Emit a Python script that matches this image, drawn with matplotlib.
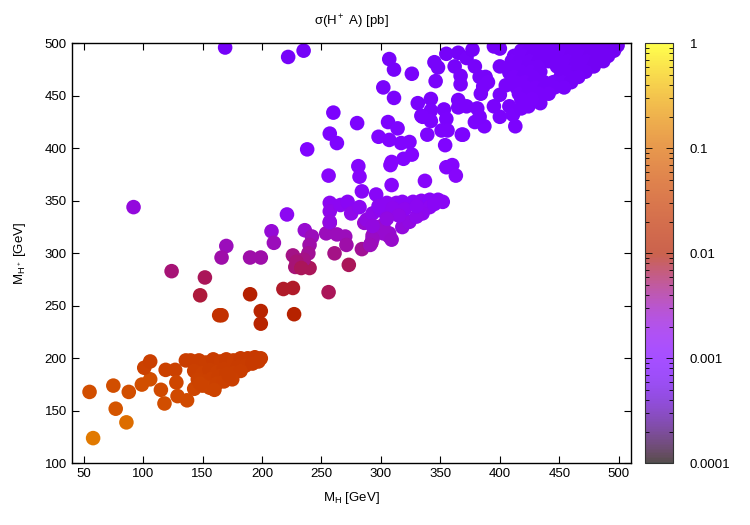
import matplotlib
matplotlib.use("Agg")
import matplotlib.pyplot as plt
import numpy as np
from matplotlib.colors import LinearSegmentedColormap, LogNorm
from matplotlib.cm import ScalarMappable
from matplotlib.ticker import FixedLocator, FixedFormatter

plt.rcParams['font.family'] = ['Liberation Sans', 'DejaVu Sans']
plt.rcParams['mathtext.fontset'] = 'custom'
plt.rcParams['mathtext.rm'] = 'Liberation Sans'
plt.rcParams['mathtext.it'] = 'Liberation Sans'

# --- data: M_H, M_H+ [GeV], sigma(H+ A) [pb] ---
low_mh = [55, 58, 75, 77, 86, 88, 99, 106, 101, 106, 115, 118, 119, 127, 128, 129, 137, 136, 143]
low_mhp = [168, 124, 174, 152, 139, 168, 175, 180, 191, 197, 170, 157, 189, 189, 177, 164, 160, 198, 171]
low_sig = [0.05, 0.13, 0.05, 0.06, 0.1, 0.05, 0.05, 0.05, 0.035, 0.032, 0.045, 0.05, 0.035, 0.035, 0.04, 0.045, 0.045, 0.03, 0.04]

band_mh = [140, 147, 153, 159, 165, 170, 176, 182, 188, 194, 199,
           143, 150, 156, 162, 168, 174, 180, 186, 192, 197,
           146, 152, 158, 164, 170, 176, 182, 150, 156, 162, 168, 175, 148, 160, 172]
band_mhp = [198, 198, 196, 199, 197, 199, 198, 200, 200, 201, 200,
            188, 186, 189, 187, 190, 191, 192, 193, 195, 197,
            180, 178, 181, 183, 185, 186, 188, 174, 172, 176, 178, 180, 176, 170, 184]
band_sig = [0.03, 0.03, 0.031, 0.029, 0.03, 0.029, 0.03, 0.028, 0.028, 0.027, 0.028,
            0.032, 0.033, 0.031, 0.032, 0.03, 0.03, 0.029, 0.029, 0.028, 0.028,
            0.034, 0.035, 0.033, 0.032, 0.031, 0.031, 0.03, 0.036, 0.037, 0.034, 0.033, 0.032, 0.036, 0.036, 0.031]

red_mh = [124, 152, 148, 164, 166, 190, 199, 199, 227, 218, 226, 256]
red_mhp = [283, 277, 260, 241, 241, 261, 245, 233, 242, 266, 267, 263]
red_sig = [0.005, 0.006, 0.007, 0.02, 0.02, 0.01, 0.012, 0.012, 0.011, 0.0078, 0.0078, 0.006]

mag_mh = [170, 166, 190, 199, 208, 210, 226, 228, 240, 236, 242, 240, 239, 235, 254, 257,
          261, 263, 273, 229, 233, 270, 271, 284, 286, 296, 302, 307, 318, 324, 293, 292]
mag_mhp = [307, 296, 296, 296, 321, 310, 298, 287, 286, 322, 316, 308, 300, 294, 319, 329,
           300, 318, 289, 292, 286, 316, 308, 304, 329, 325, 327, 316, 325, 330, 317, 310]
mag_sig = [0.003, 0.0035, 0.0035, 0.0035, 0.0023, 0.003, 0.0045, 0.005, 0.006, 0.0025, 0.003, 0.0035,
           0.004, 0.0045, 0.003, 0.0025, 0.0045, 0.003, 0.006, 0.005, 0.006, 0.003, 0.0035, 0.004,
           0.0025, 0.0025, 0.0025, 0.003, 0.0022, 0.002, 0.003, 0.0035]

mid_mh = [92, 221, 257, 257, 257, 266, 272, 275, 282, 284, 296, 309, 337, 256, 281, 282,
          288, 293, 300, 305, 313, 318, 327, 334, 341, 348, 352, 341, 335, 330, 307, 302,
          293, 291, 309, 293, 298, 310, 320, 330, 345, 315, 305]
mid_mhp = [344, 337, 348, 340, 330, 346, 349, 338, 344, 359, 356, 365, 369, 374, 383, 373,
           332, 338, 341, 348, 348, 349, 349, 350, 351, 351, 349, 344, 338, 335, 319, 319,
           314, 308, 313, 326, 345, 343, 342, 345, 347, 336, 333]
mid_sig = [0.0022, 0.0016, 0.0016, 0.0018, 0.002, 0.0016, 0.0015, 0.0018, 0.0016, 0.0014, 0.0014, 0.0013, 0.0013, 0.0013, 0.0012, 0.0013,
           0.002, 0.0018, 0.0017, 0.0016, 0.0016, 0.0015, 0.0015, 0.0015, 0.0014, 0.0014, 0.0015, 0.0016, 0.0017, 0.0018, 0.0025, 0.0025,
           0.0028, 0.003, 0.0026, 0.0021, 0.0016, 0.0017, 0.0017, 0.0016, 0.0015, 0.0019, 0.002]

up_mh = [169, 222, 235, 260, 257, 263, 238, 307, 311, 326, 302, 311, 280, 306, 314, 298,
         307, 317, 324, 326, 319, 309, 308, 331, 342, 334, 342, 342, 339, 353, 355, 351,
         356, 354, 368, 345, 348, 346, 355, 362, 365, 367, 367, 372, 365, 365, 372, 355,
         360, 363, 377, 379, 383, 388, 386, 384, 390, 381, 369, 379, 387, 383, 395, 400,
         400, 408, 411, 413, 405, 408, 400, 424, 434, 418, 395, 400, 335]
up_mhp = [496, 487, 493, 434, 414, 405, 399, 485, 475, 471, 458, 448, 424, 425, 419, 411,
          408, 405, 406, 394, 390, 387, 384, 443, 447, 431, 436, 426, 413, 437, 428, 417,
          417, 403, 413, 482, 477, 464, 490, 478, 491, 469, 461, 486, 446, 439, 440, 382,
          384, 374, 494, 478, 468, 468, 459, 452, 463, 438, 413, 425, 421, 430, 440, 430,
          451, 440, 432, 421, 460, 472, 478, 440, 443, 438, 497, 495, 430]
up_sig = [0.00072, 0.00074, 0.00072, 0.00085, 0.0009, 0.00095, 0.001, 0.00075, 0.00077, 0.00078, 0.0008, 0.00082, 0.0009, 0.0009, 0.00095, 0.001,
          0.001, 0.001, 0.001, 0.0011, 0.0011, 0.0012, 0.0012, 0.00082, 0.0008, 0.00085, 0.00083, 0.00088, 0.00095, 0.00082, 0.00086, 0.00092,
          0.00092, 0.001, 0.00092, 0.00075, 0.00076, 0.00078, 0.00073, 0.00075, 0.00072, 0.00078, 0.0008, 0.00074, 0.00082, 0.00084, 0.00083, 0.0012,
          0.0012, 0.0013, 0.00072, 0.00075, 0.00077, 0.00077, 0.00079, 0.0008, 0.00078, 0.00083, 0.00092, 0.00087, 0.00088, 0.00085, 0.00082, 0.00084,
          0.0008, 0.00082, 0.00084, 0.00088, 0.00078, 0.00076, 0.00075, 0.00082, 0.0008, 0.00082, 0.0007, 0.0007, 0.00086]

blob_mh = [425, 432, 440, 448, 455, 462, 470, 478, 486, 494, 499,
           418, 425, 433, 441, 449, 457, 465, 473, 481, 489, 496,
           412, 420, 428, 436, 444, 452, 460, 468, 476, 484, 491,
           410, 417, 425, 433, 441, 449, 457, 465, 473, 481, 487,
           409, 416, 424, 432, 448, 456, 464, 472, 479,
           410, 418, 426, 434, 457, 465, 472,
           412, 420, 428, 451, 458, 466,
           413, 421, 429, 437, 445, 453, 460,
           414, 422, 430, 438, 446, 454,
           416, 424, 433, 441,
           418, 427]
blob_mhp = [498, 498, 498, 498, 498, 498, 498, 498, 498, 498, 498,
            493, 493, 493, 493, 493, 493, 493, 493, 493, 493, 493,
            488, 488, 488, 488, 488, 488, 488, 488, 488, 488, 488,
            483, 483, 483, 483, 483, 483, 483, 483, 483, 483, 483,
            478, 478, 478, 478, 478, 478, 478, 478, 478,
            473, 473, 473, 473, 473, 473, 473,
            468, 468, 468, 468, 468, 468,
            463, 463, 463, 463, 463, 463, 463,
            458, 458, 458, 458, 458, 458,
            452, 452, 452, 452,
            447, 447]
blob_sig = [0.00072, 0.00071, 0.0007, 0.0007, 0.00069, 0.00068, 0.00067, 0.00066, 0.00065, 0.00064, 0.00063,
            0.00073, 0.00072, 0.00071, 0.0007, 0.0007, 0.00069, 0.00068, 0.00067, 0.00066, 0.00065, 0.00064,
            0.00074, 0.00073, 0.00072, 0.00071, 0.0007, 0.0007, 0.00069, 0.00068, 0.00067, 0.00066, 0.00065,
            0.00075, 0.00074, 0.00073, 0.00072, 0.00071, 0.0007, 0.0007, 0.00069, 0.00068, 0.00067, 0.00066,
            0.00076, 0.00075, 0.00074, 0.00073, 0.00071, 0.0007, 0.00069, 0.00068, 0.00067,
            0.00077, 0.00076, 0.00075, 0.00074, 0.0007, 0.00069, 0.00068,
            0.00078, 0.00077, 0.00076, 0.00072, 0.00071, 0.0007,
            0.00079, 0.00078, 0.00077, 0.00076, 0.00075, 0.00074, 0.00072,
            0.0008, 0.00079, 0.00078, 0.00077, 0.00076, 0.00075,
            0.00081, 0.0008, 0.00079, 0.00078,
            0.00082, 0.00081]

mh = np.array(low_mh + band_mh + red_mh + mag_mh + mid_mh + up_mh + blob_mh, dtype=float)
mhp = np.array(low_mhp + band_mhp + red_mhp + mag_mhp + mid_mhp + up_mhp + blob_mhp, dtype=float)
sig = np.array(low_sig + band_sig + red_sig + mag_sig + mid_sig + up_sig + blob_sig, dtype=float)

# gnuplot default palette (rgbformulae 7,5,15)
t = np.linspace(0, 1, 256)
pal = np.column_stack([np.sqrt(t), t**3, np.clip(np.sin(2*np.pi*t), 0, 1)])
cmap = LinearSegmentedColormap.from_list('gp', pal)
cmap_bar = LinearSegmentedColormap.from_list('gp_bar', 0.7*pal + 0.3)
norm = LogNorm(1e-4, 1)

fig = plt.figure(figsize=(7.5, 5.25), dpi=100)
ax = fig.add_axes([0.0956, 0.1175, 0.7453, 0.8])
ax.scatter(mh, mhp, c=sig, cmap=cmap, norm=norm, s=110, linewidths=0)
ax.set_xlim(40, 510)
ax.set_ylim(100, 500)
ax.set_xticks(np.arange(50, 501, 50))
ax.set_yticks(np.arange(100, 501, 50))
ax.tick_params(direction='in', top=True, right=True, length=5, width=0.8, labelsize=9.5, colors='black')
for s in ax.spines.values():
    s.set_linewidth(1.0)
ax.set_xlabel('M$_\\mathrm{H}$ [GeV]', fontsize=9.5, labelpad=7)
ax.set_ylabel('M$_{\\mathrm{H}^+}$ [GeV]', fontsize=9.5, labelpad=12)
ax.set_title('σ(H$^+$ A) [pb]', fontsize=9.5, pad=13)

cax = fig.add_axes([0.86, 0.1175, 0.0373, 0.8])
cb = fig.colorbar(ScalarMappable(norm=norm, cmap=cmap_bar), cax=cax)
cb.outline.set_linewidth(0.8)
cb.outline.set_edgecolor('#333333')
cax.yaxis.set_major_locator(FixedLocator([1e-4, 1e-3, 1e-2, 1e-1, 1]))
cax.yaxis.set_major_formatter(FixedFormatter(['0.0001', '0.001', '0.01', '0.1', '1']))
cax.tick_params(which='both', direction='in', left=True, right=True, labelsize=9.5, width=0.6)
cax.tick_params(which='major', length=5, pad=12)
cax.tick_params(which='minor', length=3)

fig.savefig('out.png', dpi=100)
